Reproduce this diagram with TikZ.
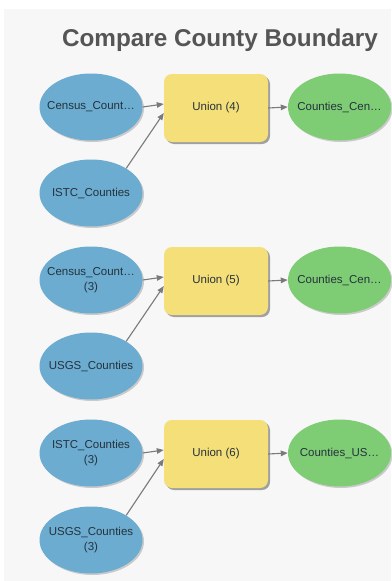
\documentclass[tikz,border=0pt]{standalone}
\usepackage{fontspec}
\setmainfont{Liberation Sans}
\usetikzlibrary{shapes.geometric,arrows.meta,shadows}
\definecolor{bgc}{HTML}{F7F7F7}
\definecolor{bluec}{HTML}{6BACD0}
\definecolor{greenc}{HTML}{7ECD75}
\definecolor{yellowc}{HTML}{F5DF79}
\definecolor{titlec}{HTML}{555555}
\definecolor{txtc}{HTML}{26323C}
\definecolor{linec}{HTML}{7A7A7A}
\tikzset{
  nodetext/.style={text=txtc, font=\fontsize{11.5}{15}\selectfont, align=center, inner sep=0pt},
  dataset/.style={ellipse, minimum width=103pt, minimum height=67pt, inner sep=0pt,
    fill=bluec, label={[nodetext]center:#1},
    drop shadow={shadow xshift=1.5pt, shadow yshift=-1.5pt, fill=black, opacity=0.18}},
  outdata/.style={dataset={#1}, fill=greenc},
  tool/.style={rectangle, rounded corners=8pt, minimum width=104pt, minimum height=68pt,
    inner sep=0pt, fill=yellowc, nodetext,
    drop shadow={shadow xshift=2pt, shadow yshift=-2pt, fill=black, opacity=0.35}},
  conn/.style={draw=linec, line width=1.1pt, -{Triangle[length=7pt,width=5.5pt]}},
  titlestyle/.style={text=titlec, font=\fontsize{24.3}{28}\selectfont\bfseries, inner sep=0pt}
}
\begin{document}
\begin{tikzpicture}[x=1pt,y=-1pt]
\useasboundingbox (0,0) rectangle (391,581);
\fill[white] (0,0) rectangle (391,581);
\fill[bgc] (4,9) rectangle (391,581);
\node[titlestyle] (title) at (220,40) {Compare County Boundary};

% group 1
\node[dataset={Census\_Count…}] (a1) at (91,107) {};
\node[dataset={ISTC\_Counties}] (b1) at (91,193) {};
\node[tool] (u1) at (216,108) {Union (4)};
\node[outdata={Counties\_Cen…}] (g1) at (339.5,107) {};
\draw[conn] (a1.east) -- ([yshift=4pt]u1.west);
\draw[conn] (b1.35) -- ([yshift=-5pt]u1.west);
\draw[conn] (u1.east) -- (g1.west);

% group 2
\node[dataset={Census\_Count…\\(3)}] (a2) at (91,280) {};
\node[dataset={USGS\_Counties}] (b2) at (91,366) {};
\node[tool] (u2) at (216,281) {Union (5)};
\node[outdata={Counties\_Cen…}] (g2) at (339.5,280) {};
\draw[conn] (a2.east) -- ([yshift=4pt]u2.west);
\draw[conn] (b2.35) -- ([yshift=-5pt]u2.west);
\draw[conn] (u2.east) -- (g2.west);

% group 3
\node[dataset={ISTC\_Counties\\(3)}] (a3) at (91,453) {};
\node[dataset={USGS\_Counties\\(3)}] (b3) at (91,540) {};
\node[tool] (u3) at (216,454) {Union (6)};
\node[outdata={Counties\_US…}] (g3) at (339.5,453) {};
\draw[conn] (a3.east) -- ([yshift=4pt]u3.west);
\draw[conn] (b3.35) -- ([yshift=-5pt]u3.west);
\draw[conn] (u3.east) -- (g3.west);
\end{tikzpicture}
\end{document}
